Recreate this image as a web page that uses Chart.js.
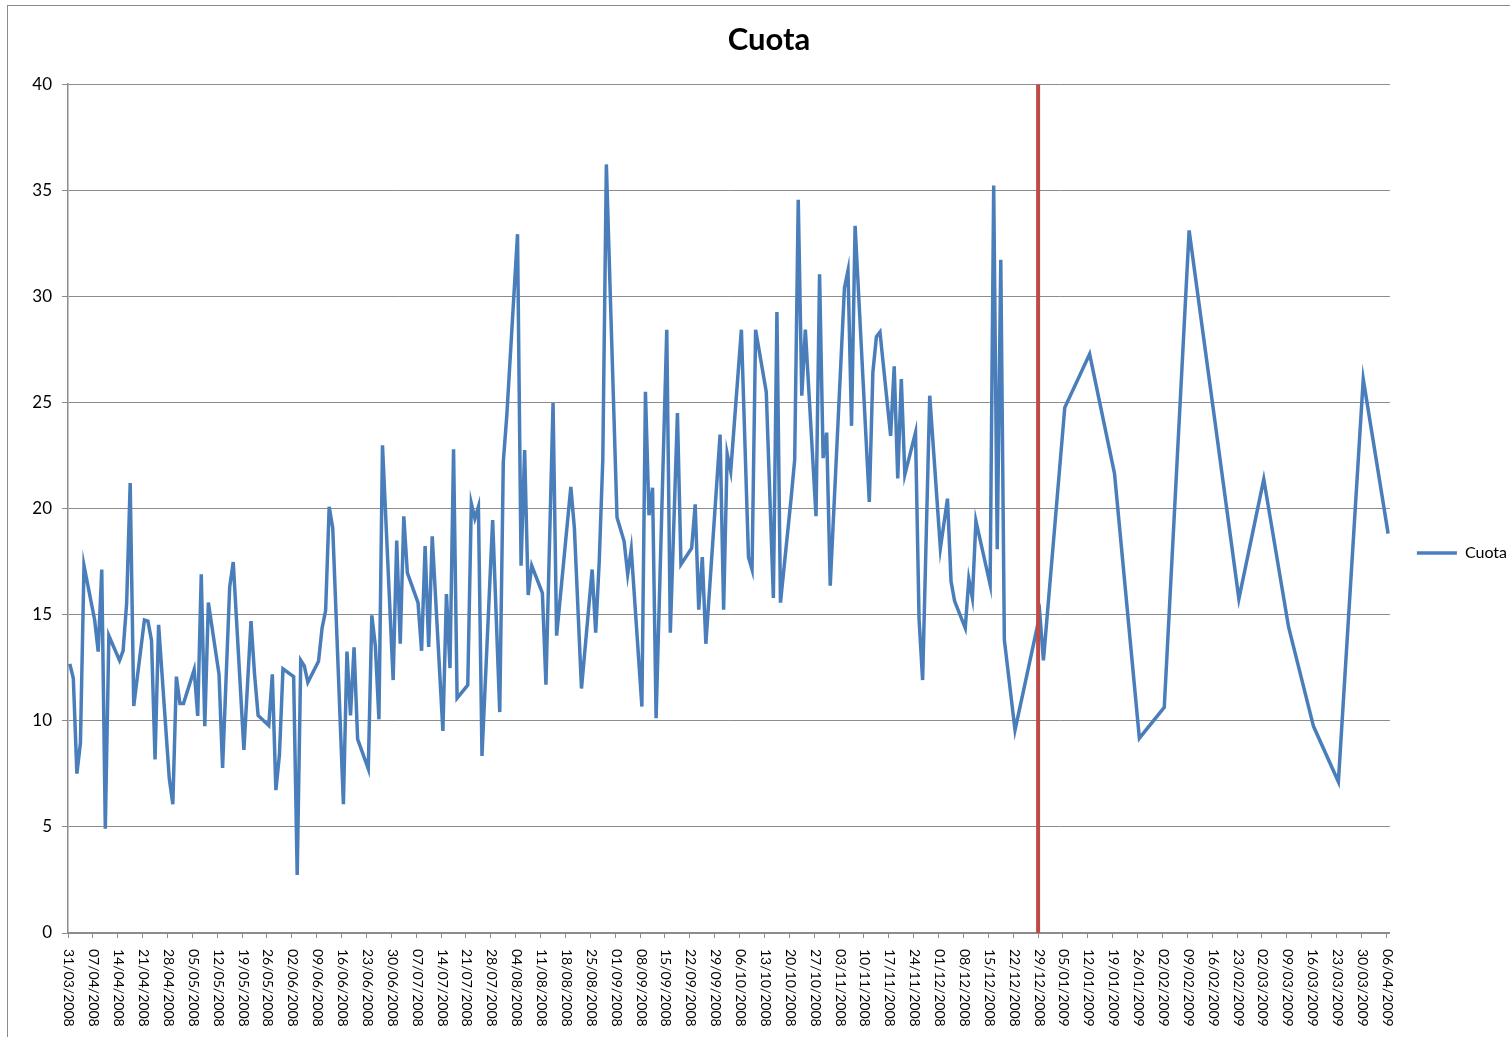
<!DOCTYPE html>
<html lang="es">
<head>
<meta charset="utf-8">
<title>Cuota</title>
<script src="https://cdn.jsdelivr.net/npm/chart.js@4.4.1/dist/chart.umd.min.js"></script>
<style>
    html, body { margin: 0; padding: 0; background: #fff; }
    #marco {
        position: absolute; left: 7px; top: 5px; width: 1520px; height: 1050px;
        border-top: 1px solid #8c8c8c; border-left: 1px solid #8c8c8c;
    }
    #contenedor { position: absolute; left: 0; top: 0; width: 1510px; height: 1037px; }
</style>
</head>
<body>
<div id="marco"></div>
<div id="contenedor"><canvas id="grafico" width="1510" height="1037"></canvas></div>
<script>
// dias contados desde el 31/03/2008
const dias = [
    0, 1, 2, 3, 4, 7, 8, 9, 10, 11, 14, 15, 16, 17, 18, 21, 22, 23, 24, 25,
    28, 29, 30, 31, 32, 35, 36, 37, 38, 39, 42, 43, 45, 46, 49, 51, 52, 53,
    56, 57, 58, 59, 60, 63, 64, 65, 66, 67, 70, 71, 72, 73, 74, 77, 78, 79, 80, 81,
    84, 85, 86, 87, 88, 91, 92, 93, 94, 95, 98, 99, 100, 101, 102,
    105, 106, 107, 108, 109, 112, 113, 114, 115, 116, 119, 121, 122, 123,
    126, 127, 128, 129, 130, 133, 134, 136, 137, 141, 142, 144,
    147, 148, 149, 150, 151, 154, 156, 157, 158, 161, 162, 163, 164, 165,
    168, 169, 171, 172, 175, 176, 177, 178, 179, 183, 184, 185, 186,
    189, 191, 192, 193, 196, 198, 199, 200, 203, 204, 205, 206, 207,
    210, 211, 212, 213, 214, 218, 219, 220, 221, 225, 226, 227, 228,
    231, 232, 233, 234, 235, 238, 239, 240, 242, 245, 247, 248, 249,
    252, 253, 254, 255, 259, 260, 261, 262, 263, 266, 273, 274,
    280, 287, 294, 301, 308, 315, 322, 329, 336, 343, 350, 357, 364, 371
];
const cuota = [
    12.68, 12.0, 7.51, 8.96, 17.31, 14.75, 13.26, 17.13, 4.91, 14.01, 12.85, 13.3, 15.53, 21.2, 10.7, 14.75, 14.7, 13.79, 8.18, 14.52,
    7.29, 6.07, 12.08, 10.81, 10.81, 12.41, 10.23, 16.91, 9.74, 15.57, 12.19, 7.78, 16.3, 17.48, 8.63, 14.7, 12.19, 10.25,
    9.78, 12.19, 6.73, 8.4, 12.45, 12.08, 2.73, 12.85, 12.59, 11.81, 12.81, 14.37, 15.19, 20.09, 19.09, 6.07, 13.26, 10.25, 13.46, 9.14,
    7.74, 14.97, 13.52, 10.07, 22.98, 11.92, 18.49, 13.63, 19.64, 16.97, 15.57, 13.3, 18.24, 13.48, 18.69,
    9.52, 15.97, 12.48, 22.8, 11.07, 11.68, 20.24, 19.53, 20.09, 8.34, 19.46, 10.41, 22.2, 24.43,
    32.93, 17.31, 22.76, 15.93, 17.31, 16.02, 11.7, 24.98, 14.01, 21.02, 19.09, 11.52,
    17.13, 14.15, 17.53, 22.31, 36.22, 19.58, 18.46, 16.91, 18.08, 10.67, 25.5, 19.69, 20.98, 10.12,
    28.43, 14.15, 24.5, 17.37, 18.13, 20.2, 15.24, 17.71, 13.63, 23.49, 15.24, 22.58, 21.76,
    28.43, 17.71, 17.13, 28.43, 25.5, 15.79, 29.26, 15.57, 20.5, 22.31, 34.55, 25.32, 28.43,
    19.64, 31.04, 22.38, 23.58, 16.37, 30.4, 31.22, 23.9, 33.33, 20.31, 26.43, 28.1, 28.32,
    23.43, 26.7, 21.42, 26.1, 21.6, 23.58, 14.79, 11.92, 25.32, 18.13, 20.47, 16.57, 15.64,
    14.37, 16.68, 15.79, 19.42, 16.42, 35.22, 18.08, 31.73, 13.81, 9.56, 15.0, 12.85,
    24.76, 27.28, 21.65, 9.18, 10.63, 33.11, 24.43, 15.75, 21.38, 14.41, 9.74, 7.13, 26.1, 18.82
];
const etiquetasX = [
    '31/03/2008', '07/04/2008', '14/04/2008', '21/04/2008', '28/04/2008', '05/05/2008', '12/05/2008',
    '19/05/2008', '26/05/2008', '02/06/2008', '09/06/2008', '16/06/2008', '23/06/2008', '30/06/2008',
    '07/07/2008', '14/07/2008', '21/07/2008', '28/07/2008', '04/08/2008', '11/08/2008', '18/08/2008',
    '25/08/2008', '01/09/2008', '08/09/2008', '15/09/2008', '22/09/2008', '29/09/2008', '06/10/2008',
    '13/10/2008', '20/10/2008', '27/10/2008', '03/11/2008', '10/11/2008', '17/11/2008', '24/11/2008',
    '01/12/2008', '08/12/2008', '15/12/2008', '22/12/2008', '29/12/2008', '05/01/2009', '12/01/2009',
    '19/01/2009', '26/01/2009', '02/02/2009', '09/02/2009', '16/02/2009', '23/02/2009', '02/03/2009',
    '09/03/2009', '16/03/2009', '23/03/2009', '30/03/2009', '06/04/2009'
];
const marcasY = [0, 5, 10, 15, 20, 25, 30, 35, 40];
const diaCorte = 273; // 29/12/2008

const fuente = 'Lato, "Open Sans", sans-serif';

// etiquetas de fecha giradas hacia abajo, como en la hoja de calculo
const etiquetasFechas = {
    id: 'etiquetasFechas',
    afterLayout(chart) {
        // el titulo va centrado sobre todo el objeto del grafico y la leyenda un poco mas abajo
        chart.titleBlock.left += 15;
        chart.titleBlock.right += 15;
        chart.legend.left += 17;
        chart.legend.right += 17;
        chart.legend.top += 32;
        chart.legend.bottom += 32;
    },
    afterDraw(chart) {
        const ctx = chart.ctx;
        const escala = chart.scales.x;
        ctx.save();
        ctx.font = '14px ' + fuente;
        ctx.fillStyle = '#000';
        ctx.textAlign = 'left';
        ctx.textBaseline = 'middle';
        escala.ticks.forEach(t => {
            const texto = etiquetasX[Math.round(t.value / 7)];
            if (!texto) return;
            ctx.save();
            ctx.translate(escala.getPixelForValue(t.value) + 1, escala.top + 16);
            ctx.rotate(Math.PI / 2);
            ctx.fillText(texto, 0, 0);
            ctx.restore();
        });
        ctx.restore();
    }
};

const ctxGrafico = document.getElementById('grafico').getContext('2d');
new Chart(ctxGrafico, {
    type: 'line',
    data: {
        datasets: [
            {
                label: 'Corte',
                data: [{ x: diaCorte, y: marcasY[0] }, { x: diaCorte, y: marcasY[marcasY.length - 1] }],
                borderColor: '#BE4B48',
                borderWidth: 4,
                pointRadius: 0
            },
            {
                label: 'Cuota',
                data: dias.map((d, i) => ({ x: d + 0.5, y: cuota[i] })),
                borderColor: '#4A7EBB',
                backgroundColor: '#4A7EBB',
                borderWidth: 3.5,
                pointRadius: 0,
                tension: 0
            }
        ]
    },
    options: {
        responsive: false,
        animation: false,
        devicePixelRatio: 1,
        layout: { padding: { top: 5, left: 8, right: 10, bottom: 0 } },
        plugins: {
            title: {
                display: true,
                text: 'Cuota',
                color: '#000',
                font: { family: fuente, size: 31, weight: 'bold' },
                padding: { top: 16, bottom: 26 }
            },
            legend: {
                position: 'right',
                labels: {
                    usePointStyle: true,
                    pointStyle: 'line',
                    pointStyleWidth: 40,
                    color: '#000',
                    font: { family: fuente, size: 16 },
                    filter: item => item.text === 'Cuota'
                }
            },
            tooltip: { enabled: false }
        },
        scales: {
            x: {
                type: 'linear',
                min: 0,
                max: (etiquetasX.length - 1) * 7 + 1,
                ticks: { stepSize: 7, display: false, includeBounds: false },
                grid: { drawOnChartArea: false, tickLength: 5, color: '#8c8c8c' },
                border: { color: '#8c8c8c', width: 1.5 },
                afterFit(s) { s.height = 104; }
            },
            y: {
                min: marcasY[0],
                max: marcasY[marcasY.length - 1],
                ticks: {
                    stepSize: marcasY[1] - marcasY[0],
                    color: '#000',
                    font: { family: fuente, size: 17 },
                    padding: 10
                },
                grid: { color: '#8c8c8c', tickLength: 6 },
                border: { color: '#8c8c8c', width: 1.5 },
                afterFit(s) { s.width = 60; }
            }
        }
    },
    plugins: [etiquetasFechas]
});
</script>
</body>
</html>
